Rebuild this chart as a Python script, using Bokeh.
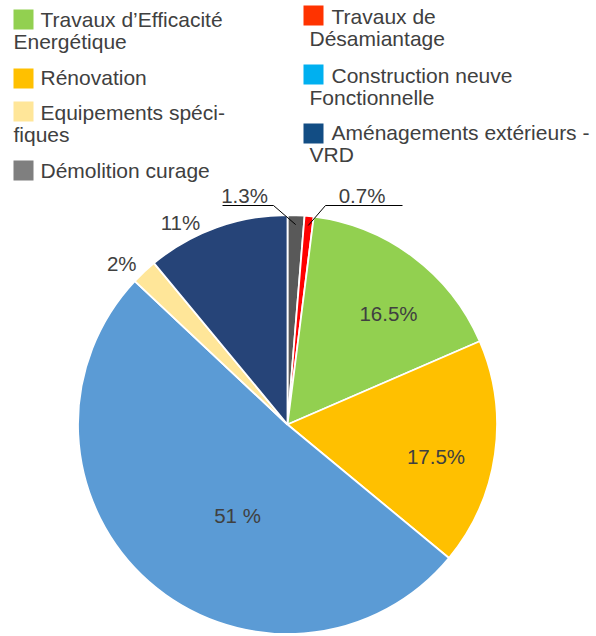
import math
from bokeh.plotting import figure
from bokeh.models import Range1d
from bokeh.core.properties import value
from bokeh.embed import file_html
from bokeh.resources import INLINE

# ---- data (clockwise from 12 o'clock) ----
slice_names = ["Démolition curage", "Travaux de Désamiantage", "Travaux d'Efficacité Energétique",
               "Rénovation", "Construction neuve", "Equipements spécifiques", "Aménagements extérieurs - VRD"]
slice_values = [1.3, 0.7, 16.5, 17.5, 51, 2, 11]
slice_labels = ["1.3%", "0.7%", "16.5%", "17.5%", "51 %", "2%", "11%"]
slice_colors = ["#595959", "#FF0000", "#92D050", "#FFC000", "#5B9BD5", "#FFE699", "#264478"]

legend_left = [["Travaux d\u2019Efficacité", "Energétique"], ["Rénovation"],
               ["Equipements spéci-", "fiques"], ["Démolition curage"]]
legend_left_colors = ["#92D050", "#FFC000", "#FFE699", "#7F7F7F"]
legend_right = [["Travaux de", "Désamiantage"], ["Construction neuve", "Fonctionnelle"],
                ["Aménagements extérieurs -", "VRD"]]
legend_right_colors = ["#FF3300", "#00B0F0", "#124D84"]

# ---- layout ----
FONT = value("Liberation Sans")
TXT = "#404040"
CX, CY, R = 287, 424, 209.5
TDY = 7.5  # text baseline correction

p = figure(width=596, height=636, output_backend="svg", toolbar_location=None,
           x_range=Range1d(0, 596), y_range=Range1d(-636, 0), min_border=0)
p.axis.visible = False
p.grid.visible = False
p.outline_line_color = None


def put_text(x, y_img, s, size, align):
    p.text(x=[x], y=[-y_img + TDY], text=[s], text_font=FONT, text_font_size=size,
           text_color=TXT, text_align=align, text_baseline="alphabetic")


total = sum(slice_values)
cum = 0.0
starts, ends, mids = [], [], []
for v in slice_values:
    a0 = math.pi / 2 - 2 * math.pi * cum / total
    cum += v
    a1 = math.pi / 2 - 2 * math.pi * cum / total
    starts.append(a0)
    ends.append(a1)
    mids.append((a0 + a1) / 2)

p.wedge(x=[CX] * len(slice_values), y=[-CY] * len(slice_values), radius=R,
        start_angle=starts, end_angle=ends, direction="clock",
        fill_color=slice_colors, line_color="white", line_width=1.8)

# inside / best-fit labels: (radius factor, angle nudge in degrees)
label_layout = {2: (0.716, -5.4), 3: (0.726, -4.4), 4: (0.497, 12.7), 5: (1.10, 2.8), 6: (1.088, 8.2)}
for i, (rf, dth) in label_layout.items():
    a = mids[i] + math.radians(dth)
    x = CX + rf * R * math.cos(a)
    y_img = CY - rf * R * math.sin(a) + 7
    put_text(x, y_img, slice_labels[i], "20.5px", "center")

# outside labels with leader lines
for i, elbow_x, end_x, tx in [(0, 273, 222, 244), (1, 325, 402, 361.5)]:
    a = mids[i]
    sx = CX + 0.955 * R * math.cos(a)
    sy = -CY + 0.955 * R * math.sin(a)
    p.line(x=[sx, elbow_x, end_x], y=[sy, -205, -205], line_color="black", line_width=1)
    put_text(tx, 202.7, slice_labels[i], "20.5px", "center")


# legend
def draw_legend(entries, colors, sq_x, txt_x, cont_x, sq_tops, baselines):
    for lines, col, top, bl in zip(entries, colors, sq_tops, baselines):
        p.rect(x=[sq_x + 10], y=[-(top + 10)], width=20, height=20, fill_color=col, line_color=None)
        for k, line in enumerate(lines):
            put_text(txt_x if k == 0 else cont_x, bl + 22.5 * k, line, "21px", "left")


draw_legend(legend_left, legend_left_colors, 13, 40, 13, [9, 68, 101, 160], [26, 84, 119, 177])
draw_legend(legend_right, legend_right_colors, 303, 331, 309, [5, 64, 123], [23, 82, 139])

open("out.html", "w").write(file_html(p, INLINE))
